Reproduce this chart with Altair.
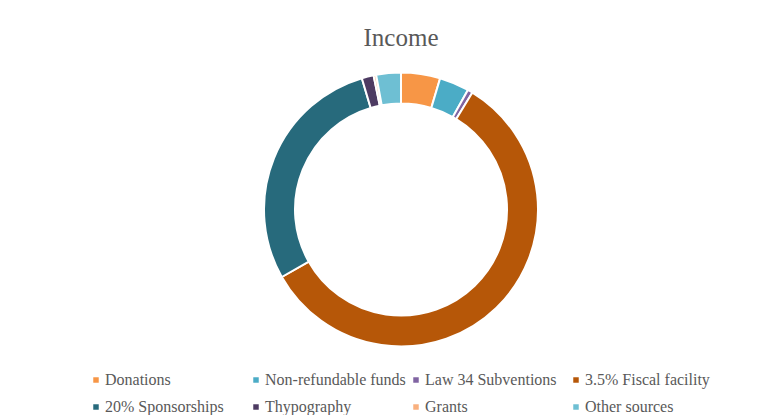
import altair as alt
import pandas as pd

categories = ["Donations", "Non-refundable funds", "Law 34 Subventions", "3.5% Fiscal facility",
              "20% Sponsorships", "Thypography", "Grants", "Other sources"]
values = [4.6, 3.5, 0.6, 57.9, 28.5, 1.4, 0.3, 2.9]
colors = ["#F79646", "#4BACC6", "#8064A2", "#B65708", "#276A7C", "#4D3B62", "#F9B07E", "#6EBFD3"]

df = pd.DataFrame({"category": categories, "value": values, "idx": list(range(len(categories)))})

chart = alt.Chart(df, title=alt.Title("Income", font="Liberation Serif", fontSize=25,
                                      fontWeight="normal", color="#595959", offset=12)).mark_arc(
    innerRadius=106, outerRadius=137, stroke="white", strokeWidth=2
).encode(
    theta=alt.Theta("value:Q", stack=True),
    order=alt.Order("idx:Q"),
    color=alt.Color("category:N", sort=categories,
                    scale=alt.Scale(domain=categories, range=colors),
                    legend=alt.Legend(title=None, orient="none", legendX=37, legendY=309,
                                      columns=4, direction="horizontal", gridAlign="all",
                                      columnPadding=2, rowPadding=11,
                                      symbolType="square", symbolSize=30, symbolStrokeWidth=0,
                                      labelFont="Liberation Serif", labelFontSize=16,
                                      labelColor="#595959", labelLimit=300, labelOffset=1)),
).properties(
    width=700, height=293,
    padding={"left": 43, "top": 18, "right": 0, "bottom": 0}
).configure_view(stroke=None).configure(background="white")

chart.save("out.html", embed_options={"renderer": "svg", "actions": False})
